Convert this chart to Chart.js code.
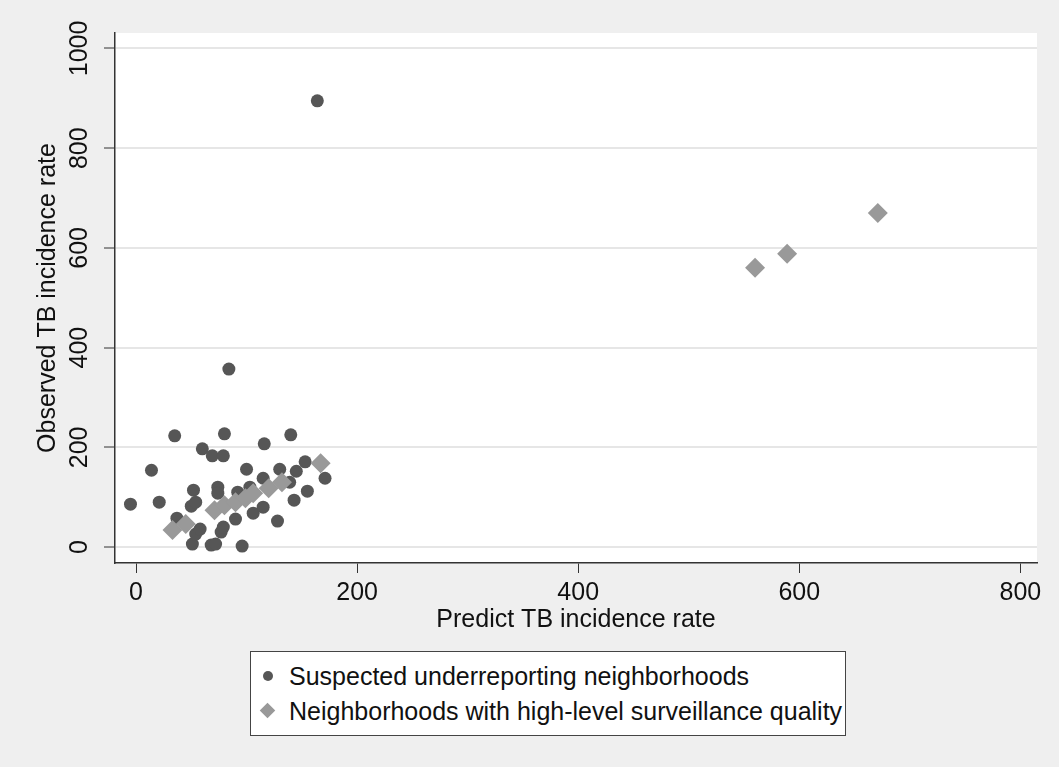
<!DOCTYPE html>
<html>
<head>
<meta charset="utf-8">
<title>Observed vs predicted TB incidence rate</title>
<script src="https://cdn.jsdelivr.net/npm/chart.js@4.4.1/dist/chart.umd.min.js"></script>
<style>
    body { margin: 0; background: #efefef; font-family: 'Liberation Sans', Arial, sans-serif; }
    #wrap { position: relative; width: 1059px; height: 767px; background: #efefef; overflow: hidden; }
    #chart { position: absolute; left: 0; top: 0; }
    .legend { position: absolute; left: 250px; top: 651px; width: 594px; height: 83px; background: #fff; border: 1px solid #444; }
    .legend .row { position: absolute; left: 38px; height: 30px; line-height: 30px; font-size: 25px; color: #111; white-space: nowrap; }
    .legend .dot { position: absolute; left: 12px; width: 10px; height: 10px; border-radius: 50%; background: #565656; }
    .legend .dia { position: absolute; left: 11px; width: 11px; height: 11px; background: #999999; transform: rotate(45deg); }
</style>
</head>
<body>
<div id="wrap">
    <canvas id="chart" width="1059" height="640"></canvas>
    <div class="legend">
        <span class="dot" style="top:19px"></span>
        <div class="row" style="top:9px">Suspected underreporting neighborhoods</div>
        <span class="dia" style="top:53px"></span>
        <div class="row" style="top:44px">Neighborhoods with high-level surveillance quality</div>
    </div>
</div>
<script>
    const xTicks = [0, 200, 400, 600, 800];
    const yTicks = [0, 200, 400, 600, 800, 1000];

    // suspected underreporting neighborhoods (predicted, observed)
    const underX = [-5, 14, 21, 35, 37, 50, 51, 52, 54, 54, 58, 60, 68, 69, 72, 74, 74, 77, 79, 79,
                    80, 84, 90, 92, 96, 100, 103, 106, 115, 115, 116, 128, 130, 139, 140, 143, 145, 153, 155, 164, 171];
    const underY = [86, 154, 90, 223, 58, 82, 6, 114, 90, 26, 36, 197, 4, 183, 6, 120, 108, 30, 40, 183,
                    227, 357, 56, 110, 2, 156, 120, 68, 138, 80, 207, 52, 156, 130, 225, 94, 152, 171, 112, 895, 138];

    // neighborhoods with high-level surveillance quality
    const highX = [33, 45, 71, 80, 90, 99, 106, 120, 132, 167, 560, 589, 671];
    const highY = [34, 46, 74, 84, 90, 98, 108, 118, 130, 168, 560, 588, 670];

    const font = { family: "'Liberation Sans', Arial, sans-serif", size: 25 };
    const axisColor = '#333';

    const plotBg = {
        id: 'plotBg',
        beforeDraw(chart) {
            const a = chart.chartArea;
            chart.ctx.save();
            chart.ctx.fillStyle = '#ffffff';
            chart.ctx.fillRect(a.left, a.top, a.right - a.left, a.bottom - a.top);
            chart.ctx.restore();
        }
    };

    new Chart(document.getElementById('chart').getContext('2d'), {
        type: 'scatter',
        data: {
            datasets: [
                {
                    label: 'Suspected underreporting neighborhoods',
                    data: underX.map((x, i) => ({ x: x, y: underY[i] })),
                    backgroundColor: '#565656',
                    borderWidth: 0,
                    pointRadius: 6.5,
                    pointStyle: 'circle',
                    order: 1
                },
                {
                    label: 'Neighborhoods with high-level surveillance quality',
                    data: highX.map((x, i) => ({ x: x, y: highY[i] })),
                    backgroundColor: '#999999',
                    borderWidth: 0,
                    pointRadius: 10,
                    pointStyle: 'rectRot',
                    order: 0
                }
            ]
        },
        options: {
            responsive: false,
            animation: false,
            devicePixelRatio: 1,
            layout: { padding: { top: 33, right: 22, left: 0, bottom: 0 } },
            plugins: { legend: { display: false }, tooltip: { enabled: false } },
            scales: {
                x: {
                    type: 'linear',
                    min: -19,
                    max: 815,
                    afterBuildTicks: s => { s.ticks = xTicks.map(v => ({ value: v })); },
                    afterFit: s => { s.height = 77; },
                    grid: { drawOnChartArea: false, drawTicks: true, tickLength: 10, tickColor: axisColor, tickWidth: 1 },
                    border: { color: axisColor, width: 1.5 },
                    ticks: { font: font, color: '#111', padding: 5, maxRotation: 0, callback: v => String(v) },
                    title: { display: true, text: 'Predict TB incidence rate', font: font, color: '#111', padding: { top: 0, bottom: 5 } }
                },
                y: {
                    type: 'linear',
                    min: -32,
                    max: 1031,
                    afterBuildTicks: s => { s.ticks = yTicks.map(v => ({ value: v })); },
                    afterFit: s => { s.width = 115; },
                    grid: { color: '#e6e6e6', lineWidth: 2, tickLength: 11, tickColor: axisColor, tickWidth: 1 },
                    border: { color: axisColor, width: 1.5 },
                    ticks: { font: font, color: '#111', padding: -4, minRotation: 90, maxRotation: 90, crossAlign: 'center', callback: v => String(v) },
                    title: { display: true, text: 'Observed TB incidence rate', font: font, color: '#111', padding: { top: 33, bottom: 0 } }
                }
            }
        },
        plugins: [plotBg]
    });
</script>
</body>
</html>
